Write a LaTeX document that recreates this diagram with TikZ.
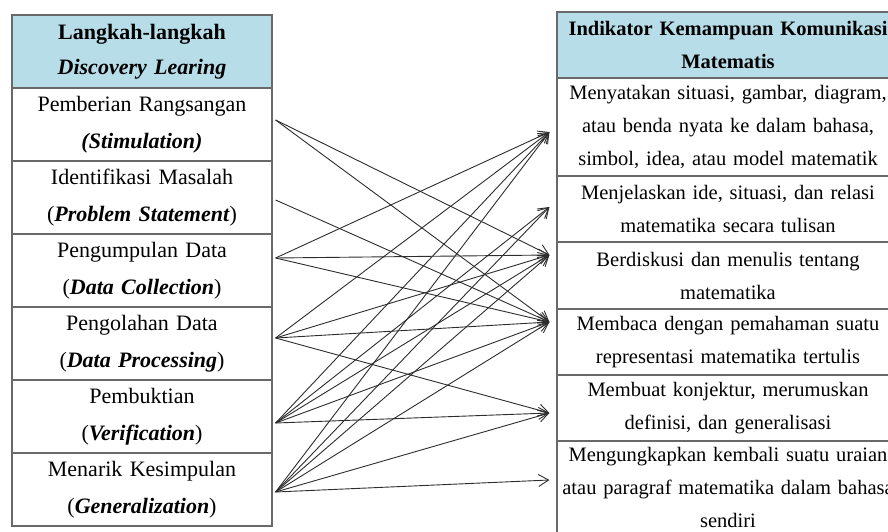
\documentclass[tikz,border=0pt]{standalone}
\usepackage{fontspec}
\setmainfont{Liberation Serif}
\usepackage{tikz}
\usetikzlibrary{arrows.meta}
\definecolor{hdrblue}{RGB}{183,221,232}
\definecolor{gridgray}{RGB}{105,105,105}
\definecolor{linkdark}{RGB}{45,45,45}
\tikzset{
  stepcell/.style={rectangle, draw=gridgray, fill=white,
    minimum width=260pt, minimum height=73pt, text width=254pt,
    align=center, inner sep=0pt, line width=1.2pt,
    font=\fontsize{22}{36.5}\selectfont},
  stephead/.style={stepcell, fill=hdrblue,
    font=\fontsize{22}{35}\selectfont\bfseries},
  indcell/.style={rectangle, draw=gridgray, fill=white,
    minimum width=342pt, text width=340pt,
    align=center, inner sep=0pt, line width=1.2pt,
    font=\fontsize{20.5}{33}\selectfont},
  indhead/.style={indcell, fill=hdrblue,
    font=\fontsize{20.5}{33}\selectfont\bfseries},
  link/.style={-{Straight Barb[length=10pt,width=12pt]},
    line width=0.9pt, color=linkdark}
}

\begin{document}
\begin{tikzpicture}[x=1pt, y=-1pt]
  \useasboundingbox (0,0) rectangle (888,532);
  \clip (0,0) rectangle (888,532);

  % Left table: steps of discovery learning
  \node[stephead] (lhead) at (142, 51.5) {Langkah-langkah\\\textit{Discovery Learing}};
  \node[stepcell] (stim)  at (142,124.5) {Pemberian Rangsangan\\\textbf{\textit{(Stimulation)}}};
  \node[stepcell] (prob)  at (142,197.5) {Identifikasi Masalah\\(\textbf{\textit{Problem Statement}})};
  \node[stepcell] (coll)  at (142,270.5) {Pengumpulan Data\\(\textbf{\textit{Data Collection}})};
  \node[stepcell] (proc)  at (142,343.5) {Pengolahan Data\\(\textbf{\textit{Data Processing}})};
  \node[stepcell] (verif) at (142,416.5) {Pembuktian\\(\textbf{\textit{Verification}})};
  \node[stepcell] (gener) at (142,489.5) {Menarik Kesimpulan\\(\textbf{\textit{Generalization}})};

  % Right table: indicators of mathematical communication
  \node[indhead, minimum height=66pt] (rhead)   at (728, 45)   {Indikator Kemampuan Komunikasi\\Matematis};
  \node[indcell, minimum height=98pt] (state)   at (728,127)   {Menyatakan situasi, gambar, diagram,\\atau benda nyata ke dalam bahasa,\\simbol, idea, atau model matematik};
  \node[indcell, minimum height=66pt] (explain) at (728,209)   {Menjelaskan ide, situasi, dan relasi\\matematika secara tulisan};
  \node[indcell, minimum height=67pt] (discuss) at (728,275.5) {Berdiskusi dan menulis tentang\\matematika};
  \node[indcell, minimum height=66pt] (read)    at (728,342)   {Membaca dengan pemahaman suatu\\representasi matematika tertulis};
  \node[indcell, minimum height=66pt] (conject) at (728,408)   {Membuat konjektur, merumuskan\\definisi, dan generalisasi};
  \node[indcell, minimum height=93pt] (retell)  at (728,487.5) {Mengungkapkan kembali suatu uraian\\atau paragraf matematika dalam bahasa\\sendiri};

  % Start and end points of the links
  \coordinate (stimo)  at ([xshift=3pt,yshift=4.5pt]stim.east);
  \coordinate (probo)  at ([xshift=3pt,yshift=-2.5pt]prob.east);
  \coordinate (collo)  at ([xshift=3pt,yshift=12.5pt]coll.east);
  \coordinate (proco)  at ([xshift=3pt,yshift=5.5pt]proc.east);
  \coordinate (verifo) at ([xshift=3pt,yshift=-6.5pt]verif.east);
  \coordinate (genero) at ([xshift=3pt,yshift=-2.5pt]gener.east);

  \coordinate (statei)   at ([xshift=-7pt,yshift=-5pt]state.west);
  \coordinate (explaini) at ([xshift=-7pt,yshift=2pt]explain.west);
  \coordinate (discussi) at ([xshift=-7pt,yshift=20.5pt]discuss.west);
  \coordinate (readi)    at ([xshift=-7pt,yshift=20pt]read.west);
  \coordinate (conjecti) at ([xshift=-7pt,yshift=-5pt]conject.west);
  \coordinate (retelli)  at ([xshift=-7pt,yshift=7.5pt]retell.west);

  % Links from each step to the indicators
  \draw[link] (stimo) -- (discussi);
  \draw[link] (stimo) -- (readi);

  \draw[link] (probo) -- (readi);

  \draw[link] (collo) -- (statei);
  \draw[link] (collo) -- (discussi);
  \draw[link] (collo) -- (readi);

  \draw[link] (proco) -- (statei);
  \draw[link] (proco) -- (discussi);
  \draw[link] (proco) -- (readi);
  \draw[link] (proco) -- (conjecti);

  \draw[link] (verifo) -- (statei);
  \draw[link] (verifo) -- (explaini);
  \draw[link] (verifo) -- (discussi);
  \draw[link] (verifo) -- (readi);
  \draw[link] (verifo) -- (conjecti);

  \draw[link] (genero) -- (statei);
  \draw[link] (genero) -- (explaini);
  \draw[link] (genero) -- (discussi);
  \draw[link] (genero) -- (readi);
  \draw[link] (genero) -- (conjecti);
  \draw[link] (genero) -- (retelli);
\end{tikzpicture}
\end{document}
